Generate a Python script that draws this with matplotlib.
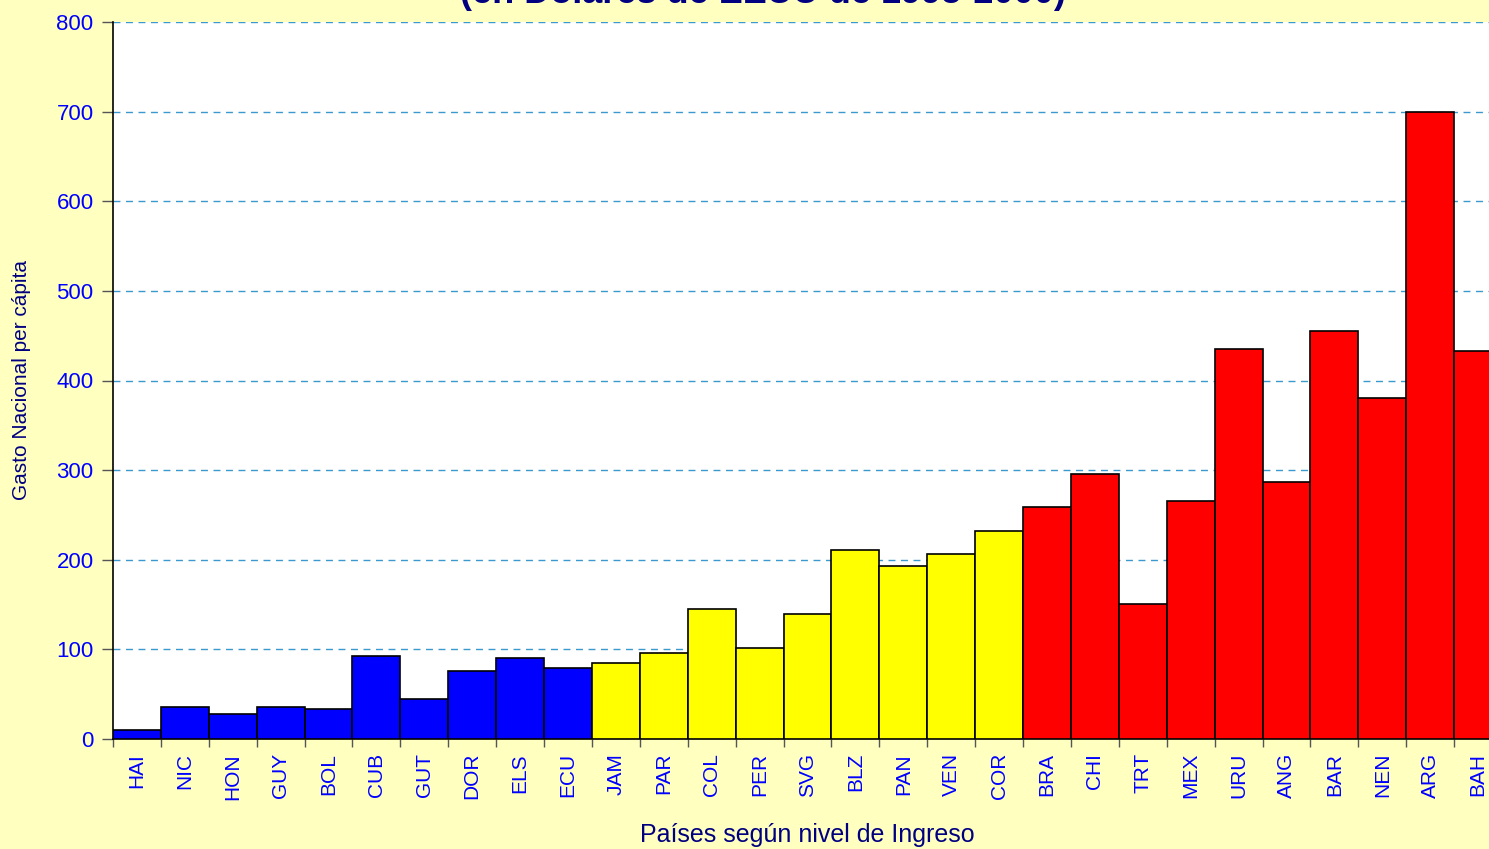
import matplotlib.pyplot as plt
import numpy as np

plt.rcParams['font.family'] = ['Liberation Sans', 'DejaVu Sans']

# data
paises = ["HAI", "NIC", "HON", "GUY", "BOL", "CUB", "GUT", "DOR", "ELS", "ECU",
          "JAM", "PAR", "COL", "PER", "SVG", "BLZ", "PAN", "VEN", "COR",
          "BRA", "CHI", "TRT", "MEX", "URU", "ANG", "BAR", "NEN", "ARG", "BAH"]
gasto = [10, 36, 28, 36, 33, 93, 45, 76, 90, 79,
         85, 96, 145, 102, 140, 211, 193, 206, 232,
         259, 296, 151, 265, 435, 287, 455, 381, 700, 433]
grupo = ["bajo"] * 10 + ["medio"] * 9 + ["alto"] * 10
colores_grupo = {"bajo": "#0000FF", "medio": "#FFFF00", "alto": "#FF0000"}

fig = plt.figure(figsize=(14.89, 8.49), dpi=100, facecolor="#FFFFC0")
ax = fig.add_axes([113 / 1489, 110 / 849, 1389 / 1489, 717 / 849])
ax.set_facecolor("white")

x = np.arange(len(paises))
ax.bar(x, gasto, width=1.0, align="edge",
       color=[colores_grupo[g] for g in grupo],
       edgecolor="black", linewidth=1.2, zorder=3)

ax.set_xlim(0, len(paises))
ax.set_ylim(0, 800)
ax.set_yticks(np.arange(0, 801, 100))
ax.yaxis.grid(True, linestyle=(0, (5, 4)), color="#3A9AD0", linewidth=1.0, zorder=0)

# tick marks at bar boundaries, labels at bar centres
ax.set_xticks(np.arange(0, len(paises) + 1))
ax.set_xticklabels([])
ax.set_xticks(x + 0.5, minor=True)
ax.set_xticklabels(paises, minor=True, rotation=90, color="#0000FF", fontsize=15)
ax.tick_params(axis="x", which="major", length=6, color="#555555", width=1)
ax.tick_params(axis="x", which="minor", length=0, pad=10)
ax.tick_params(axis="y", length=8, color="#555555", width=1, labelsize=16,
               labelcolor="#0000FF", pad=6)

for side in ["top", "right"]:
    ax.spines[side].set_visible(False)
ax.spines["left"].set_linewidth(1.2)
ax.spines["bottom"].set_linewidth(1.2)

ax.set_ylabel("Gasto Nacional per cápita", color="#000080", fontsize=15, labelpad=18)
ax.set_xlabel("Países según nivel de Ingreso", color="#000080", fontsize=18, labelpad=17)

fig.text(763 / 1489, 1 - 3 / 849, "(en Dólares de EEUU de 1995-2000)", ha="center",
         va="baseline", fontsize=26, fontweight="bold", color="#000080")

fig.savefig("out.png", dpi=100, facecolor=fig.get_facecolor())
